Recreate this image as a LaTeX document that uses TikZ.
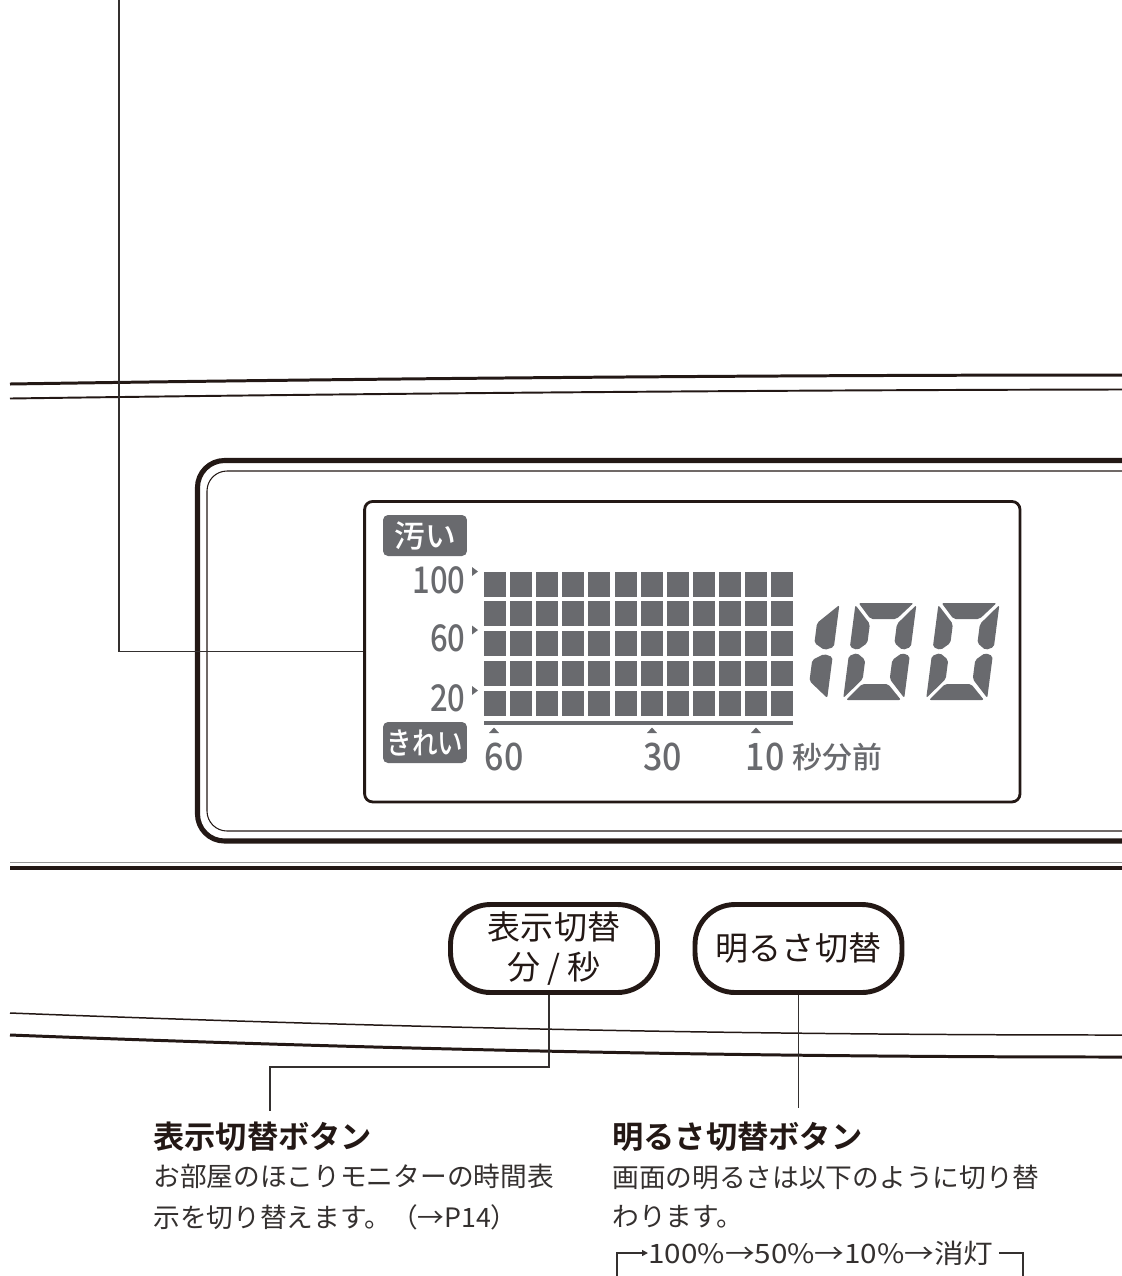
\documentclass[tikz,border=0pt]{standalone}
\usepackage{fontspec}
\setmainfont{Noto Sans CJK JP}[BoldFont={Noto Sans CJK JP Bold}]
\newfontfamily\lcdfont{Noto Sans CJK JP Medium}
\usepackage{tikz}
\usetikzlibrary{positioning,arrows.meta}
\definecolor{lcdgray}{RGB}{105,106,110}
\definecolor{inkblack}{RGB}{35,24,21}
\definecolor{bodygray}{RGB}{52,48,47}
\definecolor{rulegray}{RGB}{150,150,150}

\newcommand{\segzero}[1]{%
  \begin{scope}[shift={(#1,700)}]\begin{scope}[xslant=0.13]
    \fill[lcdgray,rounded corners=0.04cm] (3,-97) -- (58,-97) -- (43,-81) -- (17,-81) -- cycle;
    \fill[lcdgray,rounded corners=0.04cm] (0,-95) -- (17,-76) -- (17,-57) -- (8,-50) -- (0,-53) -- cycle;
    \fill[lcdgray,rounded corners=0.04cm] (0,-44) -- (8,-47) -- (17,-40) -- (17,-21) -- (0,-2) -- cycle;
    \fill[lcdgray,rounded corners=0.04cm] (61,-95) -- (44,-76) -- (44,-57) -- (53,-50) -- (61,-53) -- cycle;
    \fill[lcdgray,rounded corners=0.04cm] (61,-44) -- (53,-47) -- (44,-40) -- (44,-21) -- (61,-2) -- cycle;
    \fill[lcdgray,rounded corners=0.04cm] (3,0) -- (58,0) -- (43,-16) -- (17,-16) -- cycle;
  \end{scope}\end{scope}}
\newcommand{\segone}[1]{%
  \begin{scope}[shift={(#1,700)}]\begin{scope}[xslant=0.13]
    \fill[lcdgray,rounded corners=0.04cm] (63,-95) -- (43,-77) -- (43,-57) -- (54,-50) -- (63,-53) -- cycle;
    \fill[lcdgray,rounded corners=0.04cm] (63,-43) -- (54,-46) -- (43,-40) -- (43,-19) -- (63,-2) -- cycle;
  \end{scope}\end{scope}}

\begin{document}
\begin{tikzpicture}
[
  x=0.02cm, y=-0.02cm,
  lcdbox/.style={rectangle,draw=inkblack,line width=1.6pt,rounded corners=0.16cm,minimum width=13.11cm,minimum height=6.01cm},
  tagbox/.style={rectangle,fill=lcdgray,rounded corners=0.1cm,minimum width=1.68cm,minimum height=0.82cm,inner sep=0,text=white,font=\lcdfont\fontsize{17.5}{17.5}\selectfont},
  scalenum/.style={anchor=east,inner sep=0,text=lcdgray,font=\lcdfont\fontsize{21}{21}\selectfont},
  timenum/.style={inner sep=0,text=lcdgray,font=\lcdfont\fontsize{21.5}{21.5}\selectfont},
  btn/.style={rectangle,draw=inkblack,line width=2.8pt,rounded corners=0.8cm,minimum width=4.14cm,minimum height=1.76cm,inner sep=0,align=center,text=inkblack,font=\fontsize{18.8}{22.7}\selectfont},
  head/.style={anchor=west,inner sep=0,text=inkblack,font=\bfseries\fontsize{17.8}{20}\selectfont},
  body/.style={anchor=west,inner sep=0,text=bodygray,font=\fontsize{15.2}{18}\selectfont},
  leader/.style={draw=bodygray,line width=0.75pt},
]
\useasboundingbox (0,0) rectangle (1122,1276);

\draw[line width=1.7pt,inkblack] (10,384) .. controls (400,378) and (800,375) .. (1122,375);
\draw[line width=1.1pt,inkblack] (10,398.5) .. controls (400,393) and (800,390) .. (1122,389.5);

\draw[line width=2.9pt,inkblack,rounded corners=0.54cm] (1122,460.5) -- (197.5,460.5) -- (197.5,841) -- (1122,841);
\draw[line width=0.6pt,inkblack,rounded corners=0.4cm] (1122,471) -- (207,471) -- (207,831) -- (1122,831);

\draw[line width=1pt,rulegray] (10,862.5) -- (1122,862.5);
\draw[line width=2.3pt,inkblack] (10,868) -- (1122,868);

\draw[line width=0.85pt,inkblack] (10,1013) .. controls (450,1030) and (800,1035) .. (1122,1035);
\draw[line width=1.7pt,inkblack] (10,1035) .. controls (450,1052) and (800,1057) .. (1122,1057);

\node[lcdbox] (lcd) at (692.3,651.7) {};
\node[tagbox] (tagdirty) at (425,535.5) {汚い};
\node[tagbox] (tagclean) at (425,742.5) {\scalebox{0.83}[1]{きれい}};
\node[scalenum] (lvhigh) at (466,580) {\scalebox{0.84}[1]{100}};
\node[scalenum] (lvmid) at (466,638) {\scalebox{0.84}[1]{60}};
\node[scalenum] (lvlow) at (466,698) {\scalebox{0.84}[1]{20}};
\foreach \y in {571.5,630,690.5}
  \fill[lcdgray] (472,\y-4.5) -- (478,\y) -- (472,\y+4.5) -- cycle;
\foreach \i in {0,...,11}
  \foreach \j in {0,...,4}
    \fill[lcdgray] ({484+26.1*\i},{571.7+29.75*\j}) rectangle ++(22,25);
\fill[lcdgray] (484,721) rectangle (793,724.5);
\foreach \x in {494,652,756}
  \fill[lcdgray] (\x-5,733) -- (\x,727.5) -- (\x+5,733) -- cycle;
\node[timenum] (tsixty) at (504,757) {\scalebox{0.9}[1]{60}};
\node[timenum] (tthirty) at (662.5,757) {\scalebox{0.9}[1]{30}};
\node[timenum] (tten) at (765,757) {\scalebox{0.9}[1]{10}};
\node[anchor=west,inner sep=0,text=lcdgray,font=\lcdfont\fontsize{17}{17}\selectfont] (tunit) at (792,757) {秒分前};
\segone{764}
\segzero{843}
\segzero{926}

\node[btn] (btndisp) at (554,948.5) {表示切替\\分 / 秒};
\node[btn] (btnbright) at (798.5,948.5) {明るさ切替};

\node[head] (hddisp) at (153,1137) {表示切替ボタン};
\node[body] (bddisp1) at (153,1176) {お部屋のほこりモニターの時間表};
\node[body] (bddisp2) at (153,1217) {示を切り替えます。（→P14）};
\node[head] (hdbright) at (612,1137) {明るさ切替ボタン};
\node[body] (bdbright1) at (612,1177) {画面の明るさは以下のように切り替};
\node[body] (bdbright2) at (612,1217) {わります。};
\node[body] (cycletxt) at (648,1253) {\scalebox{1.11}[1]{100\%→50\%→10\%→消灯}};

\coordinate (ldrtop) at (119,0);
\coordinate (kneedisp) at (270,1067);
\coordinate (brkL) at (617,1276);
\coordinate (brkR) at (1023,1276);
\draw[leader] (ldrtop) |- (lcd.west);
\draw[leader,shorten >=0.22cm] ([xshift=-0.1cm]btndisp.south) |- (kneedisp) -- (kneedisp |- hddisp.north);
\draw[leader,shorten >=0.28cm] (btnbright.south) -- (btnbright.south |- hdbright.north);
\draw[leader,-{Triangle[length=0.12cm,width=0.12cm]}] (brkL) |- (cycletxt.west);
\draw[leader,shorten <=0.1cm] (cycletxt.east) -| (brkR);
\end{tikzpicture}
\end{document}
